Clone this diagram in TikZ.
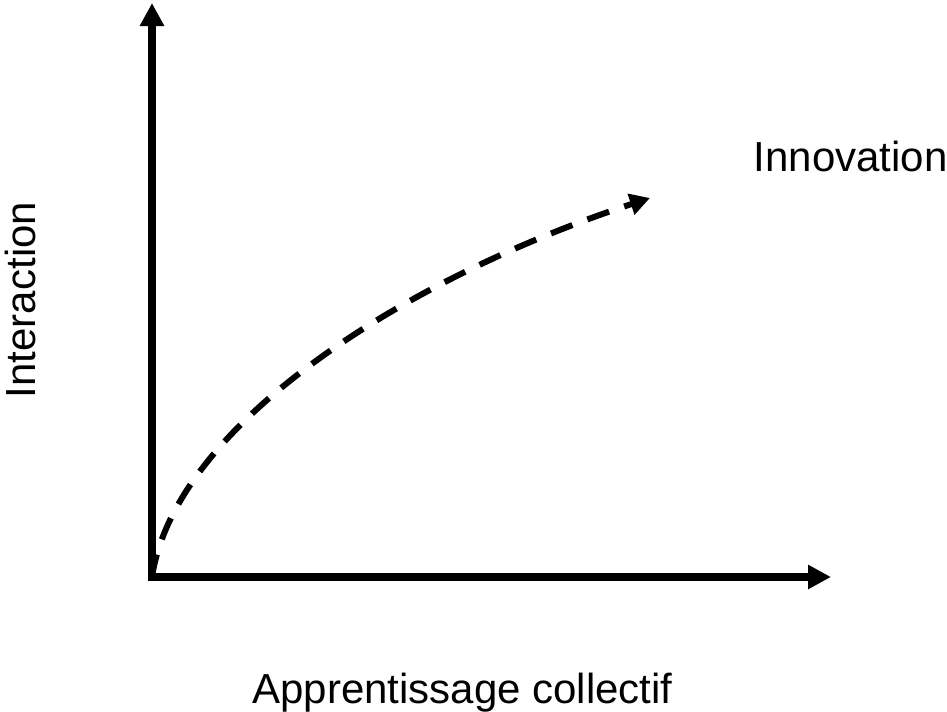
\documentclass[tikz,border=0pt]{standalone}
\usepackage{fontspec}
\setmainfont{Liberation Sans}
\usetikzlibrary{arrows.meta}

\begin{document}
\begin{tikzpicture}
		%CADRE
		\useasboundingbox (-3.04,-2.68) rectangle (15.9,11.54);
		\tikzset{
			axe/.style={line width=0.16cm,-{Triangle[length=0.46cm,width=0.46cm]}},
			courbe/.style={line width=0.12cm,dash pattern=on 0.46cm off 0.32cm,-{Triangle[length=0.4cm,width=0.42cm]}},
			etiquette/.style={font=\fontsize{23.9}{28}\selectfont,inner sep=0pt}
		}

		%POINTS
		\coordinate (O) at (0,0);
		\coordinate (ymax) at (0,11.48);
		\coordinate (xmax) at (13.58,0);
		\coordinate (fin) at (9.96,7.58);

		%EJES
		\draw[axe] (-0.08,0) -- (xmax);
		\draw[axe] (0,-0.08) -- (ymax);

		%COURBE
		\draw[courbe] (O) .. controls (0.45,3.0) and (4.96,5.94) .. (fin);

		%ETIQUETTES
		\node[etiquette,anchor=base west] (innov) at (12.03,8.12) {Innovation};
		\node[etiquette,anchor=base,rotate=90] (inter) at (-2.32,5.54) {Interaction};
		\node[etiquette,anchor=base] (appr) at (6.21,-2.52) {Apprentissage collectif};
	\end{tikzpicture}
\end{document}
